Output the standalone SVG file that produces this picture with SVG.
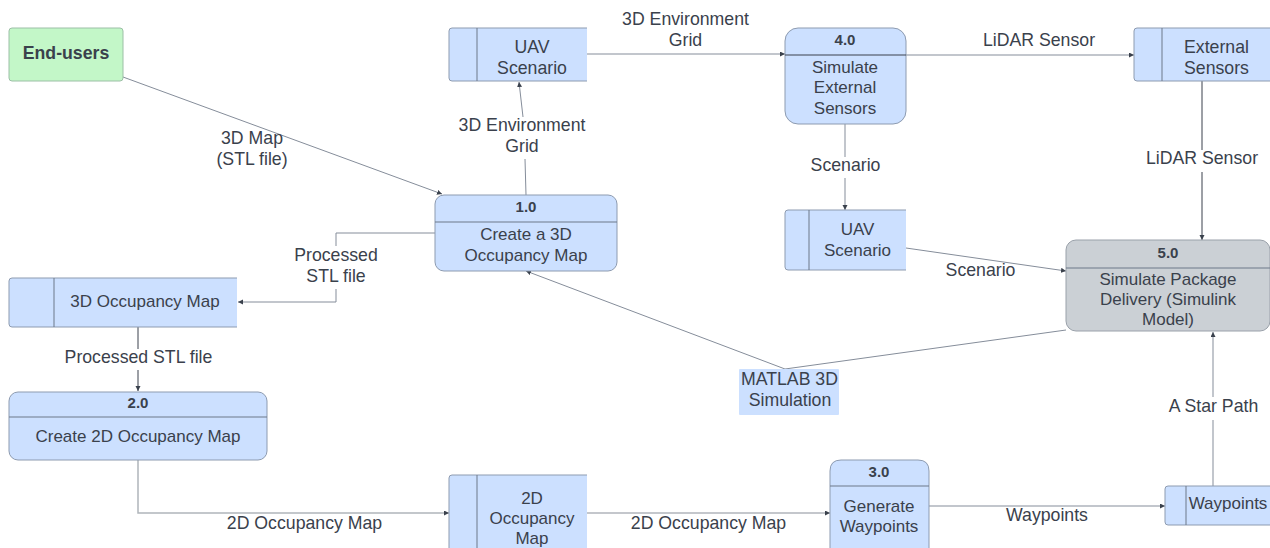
<svg xmlns="http://www.w3.org/2000/svg" width="1270" height="548" viewBox="0 0 1270 548">
<style>
text{font-family:"Liberation Sans",Arial,sans-serif;font-size:17px;fill:#3a414c;text-anchor:middle}
.b{font-weight:bold;font-size:15px}
.t{font-weight:bold;font-size:17.7px}
.w{font-size:17.7px}
.box{fill:#cce0ff;stroke:#8d9bb0;stroke-width:1}
.grey{fill:#cbd0d5;stroke:#9aa1aa;stroke-width:1}
.green{fill:#c3f7c8;stroke:#9cbfa6;stroke-width:1}
.fill{fill:#cce0ff;stroke:none}
.edge{fill:none;stroke:#8d9bb0;stroke-width:1}
.ln{fill:none;stroke:#6c7889;stroke-width:1}
.c{fill:none;stroke:#858d9a;stroke-width:1}
.d{stroke:#3a414c}
.l{stroke:#b0b5bb;stroke-width:1.5}
</style>
<defs>
<marker id="a" markerUnits="userSpaceOnUse" markerWidth="6" markerHeight="6" refX="5" refY="2.5" orient="auto"><path d="M0 0L5 2.5L0 5Z" fill="#3a414c"/></marker>
</defs>
<g id="connectors">
<path class="c" marker-end="url(#a)" d="M123 77L442 194"/>
<path class="c" marker-end="url(#a)" d="M526 195L525 159M523 117L519 82"/>
<path class="c" marker-end="url(#a)" d="M435 233H336V246M336 289V302H238"/>
<path class="c" marker-end="url(#a)" d="M587 54H785"/>
<path class="c" marker-end="url(#a)" d="M906 55H1134"/>
<path class="c d" marker-end="url(#a)" d="M1202 81V150M1202 172V240"/>
<path class="c" marker-end="url(#a)" d="M845 124V157M845 178V210"/>
<path class="c" marker-end="url(#a)" d="M906 248L1066 271"/>
<path class="c" marker-end="url(#a)" d="M1066 330L785 369L526 271"/>
<path class="c d" marker-end="url(#a)" d="M138 327V349M138 370V391"/>
<path class="c l" marker-end="url(#a)" d="M138 460V513H449"/>
<path class="c l" marker-end="url(#a)" d="M587 513H830"/>
<path class="c" marker-end="url(#a)" d="M929 506H1165"/>
<path class="c" marker-end="url(#a)" d="M1213 486V420M1213 397V332"/>
</g>
<g id="end-users">
<rect class="green" x="9" y="28" width="114" height="53" rx="3"/>
<text class="t" x="66" y="59">End-users</text>
</g>
<g id="store-uav-top">
<path class="fill" d="M452 28H587V81H452Q449 81 449 78V31Q449 28 452 28Z"/>
<path class="edge" d="M587 28H452Q449 28 449 31V78Q449 81 452 81H587"/><path class="ln" d="M477 28V81"/>
<text class="w" x="532" y="53">UAV</text><text class="w" x="532" y="74">Scenario</text>
</g>
<g id="process-4">
<rect class="box" x="785" y="28" width="121" height="96" rx="13"/>
<path class="ln d" d="M785 55H906"/>
<text class="b" x="845" y="45">4.0</text>
<text x="845" y="73">Simulate</text><text x="845" y="93">External</text><text x="845" y="114">Sensors</text>
</g>
<g id="store-external">
<path class="fill" d="M1137 28H1270V81H1137Q1134 81 1134 78V31Q1134 28 1137 28Z"/>
<path class="edge" d="M1270 28H1137Q1134 28 1134 31V78Q1134 81 1137 81H1270"/><path class="ln" d="M1162 28V81"/>
<text class="w" x="1216.500" y="53">External</text><text class="w" x="1216.500" y="74">Sensors</text>
</g>
<g id="process-1">
<rect class="box" x="435" y="195" width="182" height="76" rx="9"/>
<path class="ln" d="M435 222H617"/>
<text class="b" x="526" y="212">1.0</text>
<text x="526" y="240">Create a 3D</text><text x="526" y="261">Occupancy Map</text>
</g>
<g id="store-uav-mid">
<path class="fill" d="M788 210H906V270H788Q785 270 785 267V213Q785 210 788 210Z"/>
<path class="edge" d="M906 210H788Q785 210 785 213V267Q785 270 788 270H906"/><path class="ln" d="M809 210V270"/>
<text x="857.500" y="235">UAV</text><text x="857.500" y="256">Scenario</text>
</g>
<g id="process-5">
<rect class="grey" x="1066" y="240" width="204" height="91" rx="10"/>
<path class="ln" d="M1066 268H1270"/>
<text class="b" x="1168" y="258">5.0</text>
<text x="1168" y="285">Simulate Package</text><text x="1168" y="305">Delivery (Simulink</text><text x="1168" y="325">Model)</text>
</g>
<g id="store-3d">
<path class="fill" d="M12 278H237V327H12Q9 327 9 324V281Q9 278 12 278Z"/>
<path class="edge" d="M237 278H12Q9 278 9 281V324Q9 327 12 327H237"/><path class="ln" d="M54 278V327"/>
<text x="145" y="307">3D Occupancy Map</text>
</g>
<g id="matlab">
<rect class="fill" x="739" y="369" width="100" height="46" rx="1"/>
<text class="w" x="789.500" y="385">MATLAB 3D</text><text class="w" x="790" y="406">Simulation</text>
</g>
<g id="process-2">
<rect class="box" x="9" y="392" width="258" height="68" rx="9"/>
<path class="ln" d="M9 417H267"/>
<text class="b" x="138" y="408">2.0</text>
<text x="138" y="442">Create 2D Occupancy Map</text>
</g>
<g id="store-2d">
<path class="fill" d="M452 475H587V548H449V478Q449 475 452 475Z"/>
<path class="edge" d="M587 475H452Q449 475 449 478V548"/><path class="ln" d="M477 475V548"/>
<text x="532" y="504">2D</text><text x="532" y="524">Occupancy</text><text x="532" y="544">Map</text>
</g>
<g id="process-3">
<path class="box" d="M830 548V471Q830 460 841 460H918Q929 460 929 471V548"/>
<path class="ln" d="M830 486H929"/>
<text class="b" x="879" y="477">3.0</text>
<text x="879" y="512">Generate</text><text x="879" y="532">Waypoints</text>
</g>
<g id="store-waypoints">
<path class="fill" d="M1168 486H1270V525H1168Q1165 525 1165 522V489Q1165 486 1168 486Z"/>
<path class="edge" d="M1270 486H1168Q1165 486 1165 489V522Q1165 525 1168 525H1270"/><path class="ln" d="M1186 486V525"/>
<text x="1228" y="509">Waypoints</text>
</g>
<g id="labels" class="lab">
<text class="w" x="685.500" y="25">3D Environment</text><text class="w" x="685.500" y="46">Grid</text>
<text class="w" x="1039" y="46">LiDAR Sensor</text>
<text class="w" x="1202" y="164">LiDAR Sensor</text>
<text class="w" x="845.500" y="171">Scenario</text>
<text class="w" x="980.500" y="276">Scenario</text>
<text class="w" x="252" y="144">3D Map</text><text class="w" x="252" y="165">(STL file)</text>
<text class="w" x="522" y="131">3D Environment</text><text class="w" x="522" y="152">Grid</text>
<text class="w" x="336" y="261">Processed</text><text class="w" x="336" y="282">STL file</text>
<text class="w" x="138.500" y="363">Processed STL file</text>
<text class="w" x="304.500" y="529">2D Occupancy Map</text>
<text class="w" x="708.500" y="529">2D Occupancy Map</text>
<text class="w" x="1047" y="521">Waypoints</text>
<text class="w" x="1213.500" y="412">A Star Path</text>
</g>
</svg>
